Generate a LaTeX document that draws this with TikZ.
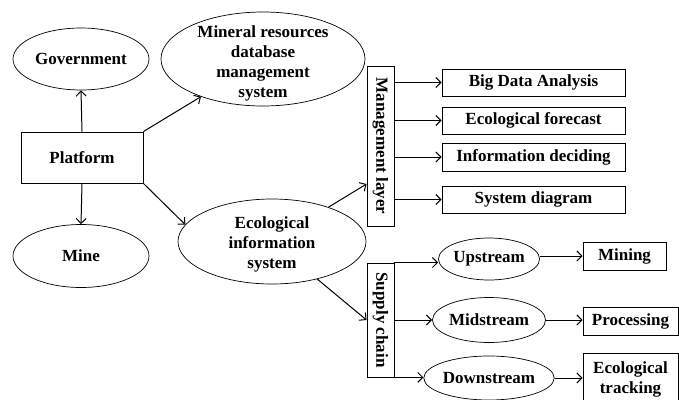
\documentclass[tikz,border=0pt]{standalone}
\usepackage{fontspec}
\setmainfont{Liberation Serif}
\usepackage{graphicx}
\usetikzlibrary{arrows.meta,shapes.geometric}

% stacked lines, lowered a little without changing the box size
\newcommand{\dropcell}[2]{\raisebox{-#1}[\height][\depth]{\begin{tabular}{@{}c@{}}#2\end{tabular}}}

\begin{document}
\begin{tikzpicture}[
    x=1pt, y=-1pt,
    font=\bfseries\fontsize{17}{20}\selectfont,
    box/.style={
        rectangle,
        draw=black,
        line width=0.9pt,
        align=center,
        inner sep=0pt
    },
    bubble/.style={
        ellipse,
        draw=black,
        line width=0.7pt,
        align=center,
        inner sep=0pt
    },
    arrow/.style={-{Straight Barb[length=5pt,width=10pt]}, line width=1pt}
]
\useasboundingbox (0,0) rectangle (679,399);
\clip (0,0) rectangle (679,399);

% left part
\node[bubble, minimum width=136pt, minimum height=62pt] (gov) at (81,59) {Government};
\node[box, minimum width=122pt, minimum height=51pt] (plat) at (82,157.5) {Platform};
\node[bubble, minimum width=136pt, minimum height=63pt] (mine) at (81,256) {Mine};
\node[bubble, inner ysep=-8pt, minimum width=204pt, minimum height=94pt] (mrdb) at (263,59) {\dropcell{4pt}{Mineral resources\\database\\management\\system}};
\node[bubble, minimum width=188pt, minimum height=85pt] (eco) at (272,241.5) {\dropcell{3pt}{Ecological\\information\\system}};

% the two layers
\node[box, minimum width=27pt, minimum height=160pt] (mgmt) at (380.5,146) {\rotatebox{-90}{Management layer}};
\node[box, minimum width=27pt, minimum height=114pt] (chain) at (380.5,320) {\rotatebox{-90}{Supply chain}};

% management tasks
\node[box, minimum width=183pt, minimum height=27pt] (bigdata) at (533.5,82.5) {Big Data Analysis};
\node[box, minimum width=183pt, minimum height=27pt] (forecast) at (533.5,120.5) {Ecological forecast};
\node[box, minimum width=183pt, minimum height=28pt] (deciding) at (533.5,157) {Information deciding};
\node[box, minimum width=183pt, minimum height=27pt] (sysdiag) at (533.5,199.5) {System diagram};

% supply chain stages
\node[bubble, minimum width=96pt, minimum height=42pt] (up) at (489,259) {Upstream};
\node[bubble, minimum width=96pt, minimum height=45pt] (mid) at (489,320) {Midstream};
\node[bubble, minimum width=96pt, minimum height=44pt] (down) at (489,378) {Downstream};
\node[box, minimum width=83pt, minimum height=28pt] (mining) at (624.5,256) {Mining};
\node[box, minimum width=95pt, minimum height=28pt] (proc) at (630.5,321) {Processing};
\node[box, minimum width=95pt, minimum height=52pt] (track) at (630.5,379) {Ecological\\tracking};

\draw[arrow] (plat.north) -- (gov.south);
\draw[arrow] (plat.south) -- (mine.north);
\draw[arrow] (plat.north east) -- (mrdb);
\draw[arrow] (plat.south east) -- (eco.169);
\draw[arrow] (eco) -- ([yshift=-38pt]mgmt.west);
\draw[arrow] (eco) -- (chain.west);

\draw[arrow] (mgmt.east |- bigdata.west) -- (bigdata.west);
\draw[arrow] (mgmt.east |- forecast.west) -- (forecast.west);
\draw[arrow] (mgmt.east |- deciding.west) -- (deciding.west);
\draw[arrow] (mgmt.east |- sysdiag.west) -- (sysdiag.west);

\draw[arrow] (chain.north east) -- (up.west |- chain.north east);
\draw[arrow] (chain.east) -- (mid.west);
\draw[arrow] (chain.south east) -- (down.west |- chain.south east);

\draw[arrow] (up.east |- mining.west) -- (mining.west);
\draw[arrow] (mid.east) -- (proc.west |- mid.east);
\draw[arrow] (down.east) -- (track.west |- down.east);

\end{tikzpicture}
\end{document}
